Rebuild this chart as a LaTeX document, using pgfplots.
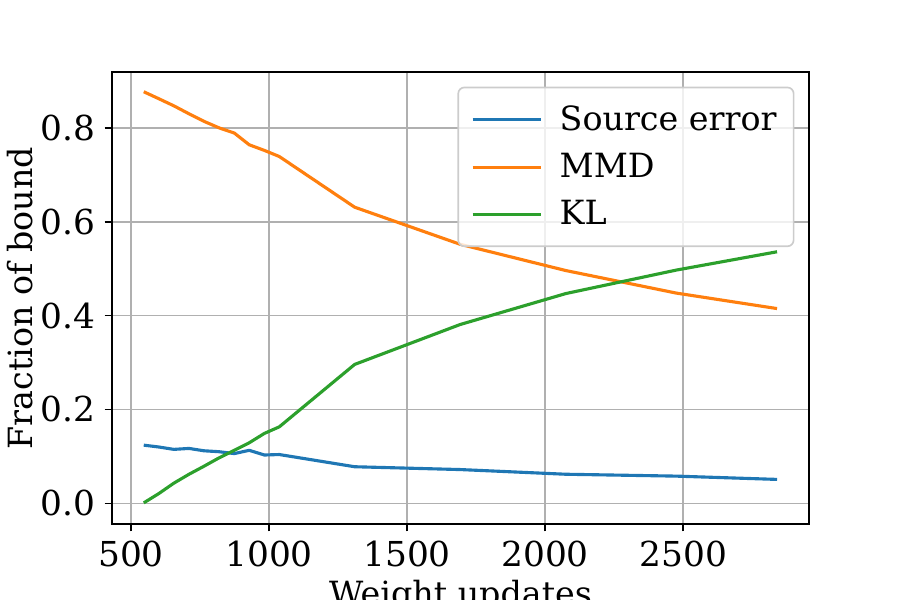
\documentclass[border=0pt]{standalone}
\usepackage{fontspec}
\setmainfont{DejaVu Serif}
\usepackage{pgfplots}
\pgfplotsset{compat=1.18}

\definecolor{c0}{HTML}{1F77B4}
\definecolor{c1}{HTML}{FF7F0E}
\definecolor{c2}{HTML}{2CA02C}
\definecolor{gridgray}{HTML}{B0B0B0}
\definecolor{legendgray}{HTML}{CCCCCC}

\begin{document}
\begin{tikzpicture}[font=\fontsize{16bp}{19bp}\selectfont]
\begin{axis}[
  at={(0.7467in,0.5067in)}, anchor=south west,
  scale only axis, width=4.647in, height=3.013in,
  xmin=431, xmax=2956, ymin=-0.044, ymax=0.919,
  xtick={500,1000,1500,2000,2500},
  ytick={0,0.2,0.4,0.6,0.8},
  xtick pos=bottom, ytick pos=left,
  scaled ticks=false,
  /pgf/number format/assume math mode=true,
  /pgf/number format/1000 sep={},
  tick label style={font=\fontsize{16.5bp}{19bp}\selectfont},
  yticklabel style={/pgf/number format/fixed, /pgf/number format/fixed zerofill,
    /pgf/number format/precision=1, inner sep=0pt, xshift=-4.5bp},
  grid=major,
  grid style={color=gridgray, line width=0.8bp},
  axis line style={line width=0.8bp},
  tick align=outside,
  major tick length=3.5bp,
  tick style={line width=0.8bp, black},
  xticklabel style={inner sep=0pt, yshift=-4.5bp},
  xlabel={Weight updates},
  ylabel={Fraction of bound},
  xlabel style={at={(axis description cs:0.5,0)}, anchor=north, inner sep=0pt, yshift=-27bp},
  ylabel style={at={(axis description cs:-0.132,0.5)}, anchor=center},
  legend cell align=left,
  legend style={
    at={(rel axis cs:1,1)}, anchor=north east, xshift=-7bp, yshift=-7bp,
    draw=legendgray, line width=0.8bp, rounded corners=3bp,
    fill=white, fill opacity=0.8, text opacity=1,
    inner xsep=6.2bp, inner ysep=6.8bp,
    row sep=5.5bp,
  },
  legend image code/.code={\draw[#1, line width=1.5bp] (0bp,0bp) -- (33bp,0bp);},
  every axis plot/.append style={line width=1.5bp, mark=none, line join=round},
]
\addplot[c0] coordinates {
(546,0.124)(601,0.120)(655,0.115)(710,0.117)(764,0.112)(819,0.110)(874,0.106)
(928,0.113)(983,0.103)(1037,0.104)(1310,0.078)(1692,0.072)(2075,0.062)(2475,0.058)(2840,0.051)};
\addlegendentry{\hspace{6bp}Source error}
\addplot[c1] coordinates {
(546,0.877)(601,0.862)(655,0.847)(710,0.830)(764,0.814)(819,0.800)(874,0.789)
(928,0.764)(983,0.752)(1037,0.739)(1310,0.631)(1692,0.552)(2075,0.496)(2475,0.448)(2840,0.415)};
\addlegendentry{\hspace{6bp}MMD}
\addplot[c2] coordinates {
(546,0.001)(601,0.021)(655,0.043)(710,0.062)(764,0.079)(819,0.097)(874,0.113)
(928,0.129)(983,0.149)(1037,0.163)(1310,0.296)(1692,0.381)(2075,0.447)(2475,0.497)(2840,0.536)};
\addlegendentry{\hspace{6bp}KL}
\end{axis}
\pgfresetboundingbox
\useasboundingbox (0,0) rectangle (6in,4in);
\end{tikzpicture}
\end{document}
